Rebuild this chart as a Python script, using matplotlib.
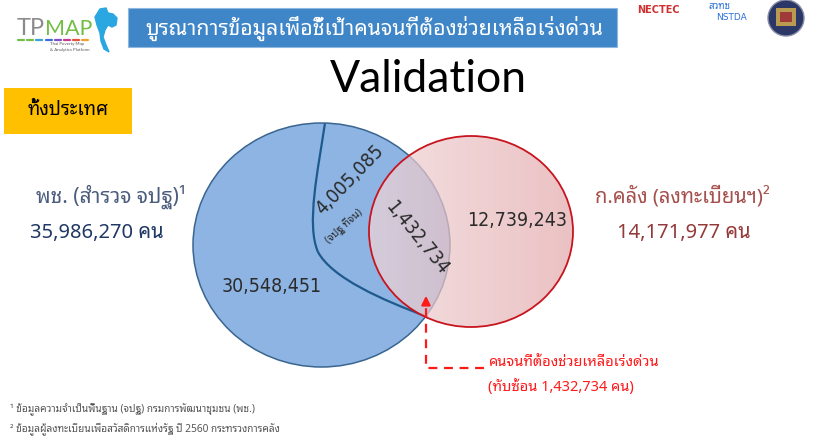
import matplotlib
matplotlib.use("Agg")
import matplotlib.pyplot as plt
import numpy as np
from matplotlib.patches import Ellipse, Rectangle, Polygon, Circle, PathPatch
from matplotlib.path import Path

# ---- data ----
title_th = "บูรณาการข้อมูลเพื่อชี้เป้าคนจนที่ต้องช่วยเหลือเร่งด่วน"
scope_label = "ทั้งประเทศ"
left_source = "พช. (สำรวจ จปฐ)¹"
right_source = "ก.คลัง (ลงทะเบียนฯ)²"
left_total = 35986270
right_total = 14171977
only_left = 30548451
left_poor = 4005085
overlap = 1432734
only_right = 12739243
poor_note = "(จปฐ ที่จน)"
callout = ["คนจนที่ต้องช่วยเหลือเร่งด่วน", "(ทับซ้อน {:,} คน)".format(overlap)]
footnotes = ["¹ ข้อมูลความจำเป็นพื้นฐาน (จปฐ) กรมการพัฒนาชุมชน (พช.)",
             "² ข้อมูลผู้ลงทะเบียนเพื่อสวัสดิการแห่งรัฐ ปี 2560 กระทรวงการคลัง"]

TH = ["Noto Sans Thai Looped", "Noto Sans", "DejaVu Sans"]
plt.rcParams["font.family"] = TH

fig = plt.figure(figsize=(8.2, 4.46), dpi=100)
ax = fig.add_axes([0, 0, 1, 1])
ax.set_xlim(0, 820)
ax.set_ylim(446, 0)
ax.axis("off")

# ---- header: logo, banner, partner logos ----
ax.text(17, 35, "TP", color="#8a8a8a", fontsize=17, family=["Lato"], va="baseline")
ax.text(45, 35, "MAP", color="#72bf44", fontsize=15.5, family=["Lato"], va="baseline")
dot_cols = ["#72bf44", "#72bf44", "#3aa0d8", "#3a6fd8", "#7a4fc8", "#c83a8a", "#e8503a", "#f0a030"]
for i, c in enumerate(dot_cols):
    ax.plot([18 + i * 9.2, 24 + i * 9.2], [40, 40], color=c, lw=1.6, solid_capstyle="round")
ax.text(50, 45.5, "Thai Poverty Map", fontsize=3.2, color="#555555", family=["Lato"])
ax.text(50, 51, "& Analytics Platform", fontsize=3.2, color="#555555", family=["Lato"])
thai_map = [(100, 9), (106, 8), (108, 13), (113, 14), (117, 18), (116, 25), (112, 27),
            (108, 25), (105, 30), (103, 37), (106, 45), (109, 52), (104, 49), (101, 41),
            (100, 33), (97, 25), (95, 17)]
ax.add_patch(Polygon(thai_map, closed=True, color="#2aa6e0"))

ax.add_patch(Rectangle((128, 8), 489, 39, facecolor="#3f86c8", edgecolor="#8fb8e0", lw=0.8))
ax.text(374, 28, title_th, color="white", fontsize=15.3, ha="center", va="center")

ax.text(637, 13, "NECTEC", color="#d03030", fontsize=7, fontweight="bold",
        family=["DejaVu Sans"], va="baseline")
ax.text(708, 9, "สวทช", color="#2a6fd8", fontsize=7, fontstyle="italic", va="baseline")
ax.text(716, 20, "NSTDA", color="#2a6fd8", fontsize=6.5, family=["DejaVu Sans"], va="baseline")
ax.add_patch(Circle((786, 18), 18, facecolor="#2b3766", edgecolor="#8a8fa8", lw=1))
ax.add_patch(Rectangle((776, 8), 20, 18, facecolor="#b89a50", edgecolor="none"))
ax.add_patch(Rectangle((780, 12), 12, 10, facecolor="#a03a3a", edgecolor="none"))

# ---- title and scope box ----
ax.text(428, 80, "Validation", fontsize=32, color="black", family=["Lato"],
        ha="center", va="center")
ax.add_patch(Rectangle((4, 88), 128, 46, facecolor="#ffc000", edgecolor="none"))
ax.text(68, 110, scope_label, fontsize=13.5, fontweight="bold", color="black",
        ha="center", va="center")

# ---- side labels ----
ax.text(111, 197, left_source, fontsize=15, color="#4b5d7d", ha="center", va="center")
ax.text(97, 233, "{:,} คน".format(left_total), fontsize=14.5, fontweight="bold",
        color="#1f3864", ha="center", va="center")
ax.text(682, 197, right_source, fontsize=14.5, color="#a5504d", ha="center", va="center")
ax.text(684, 233, "{:,} คน".format(right_total), fontsize=14.5, fontweight="bold",
        color="#943a3a", ha="center", va="center")

# ---- venn ----
bc, bw, bh = (321.5, 245), 257, 244
rc, rw, rh = (471, 231.5), 204, 191
ax.add_patch(Ellipse(bc, bw, bh, facecolor="#8db4e3", edgecolor="none", zorder=2))

curve = Path([(325, 123), (318, 170), (306, 225), (318, 252),
              (332, 278), (382, 300), (428, 317)],
             [Path.MOVETO, Path.CURVE4, Path.CURVE4, Path.CURVE4,
              Path.CURVE4, Path.CURVE4, Path.CURVE4])
ax.add_patch(PathPatch(curve, facecolor="none", edgecolor="#1f5a8c", lw=1.6, zorder=3))
ax.add_patch(Ellipse(bc, bw, bh, facecolor="none", edgecolor="#3a6590", lw=1.1, zorder=3))

# red set: left-to-right gradient, semi transparent over the blue set
t = np.linspace(0, 1, 256)
grad = np.zeros((2, 256, 4))
grad[..., 0] = (240 + (228 - 240) * t) / 255
grad[..., 1] = (214 + (170 - 214) * t) / 255
grad[..., 2] = (216 + (172 - 216) * t) / 255
grad[..., 3] = 0.72
clip = Ellipse(rc, rw, rh, transform=ax.transData, facecolor="none", edgecolor="none")
ax.add_patch(clip)
img = ax.imshow(grad, extent=(rc[0] - rw / 2, rc[0] + rw / 2, rc[1] + rh / 2, rc[1] - rh / 2),
                aspect="auto", zorder=4, interpolation="bilinear")
img.set_clip_path(clip)
ax.add_patch(Ellipse(rc, rw, rh, facecolor="none", edgecolor="#c8141e", lw=1.3, zorder=5))
ax.set_xlim(0, 820)
ax.set_ylim(446, 0)

num_kw = dict(fontsize=14, color="#2b2b2b", ha="center", va="center", zorder=6,
              family=["DejaVu Sans"], fontstretch="condensed")
ax.text(272, 287, "{:,}".format(only_left), **num_kw)
ax.text(350, 180, "{:,}".format(left_poor), rotation=46, rotation_mode="anchor", **num_kw)
ax.text(344, 226, poor_note, fontsize=7.5, color="#2b2b2b", rotation=42,
        rotation_mode="anchor", ha="center", va="center", zorder=6)
ax.text(417, 238, "{:,}".format(overlap), rotation=-51, rotation_mode="anchor", **num_kw)
ax.text(517, 221, "{:,}".format(only_right), **num_kw)

# ---- callout ----
red = "#ff1a1a"
ax.plot([484, 426, 426], [368, 368, 303], color=red, lw=1.6, ls=(0, (4, 3)), zorder=7)
ax.annotate("", xy=(426, 293), xytext=(426, 304),
            arrowprops=dict(arrowstyle="-|>", color=red, lw=1.6, mutation_scale=13), zorder=7)
ax.text(488, 363, callout[0], fontsize=10.5, color=red, va="center", ha="left")
ax.text(488, 387, callout[1], fontsize=10.5, color=red, va="center", ha="left")

# ---- footnotes ----
ax.text(10, 410, footnotes[0], fontsize=7.3, color="#555555", va="center")
ax.text(10, 429, footnotes[1], fontsize=7.3, color="#555555", va="center")

fig.savefig("out.png", dpi=100)
